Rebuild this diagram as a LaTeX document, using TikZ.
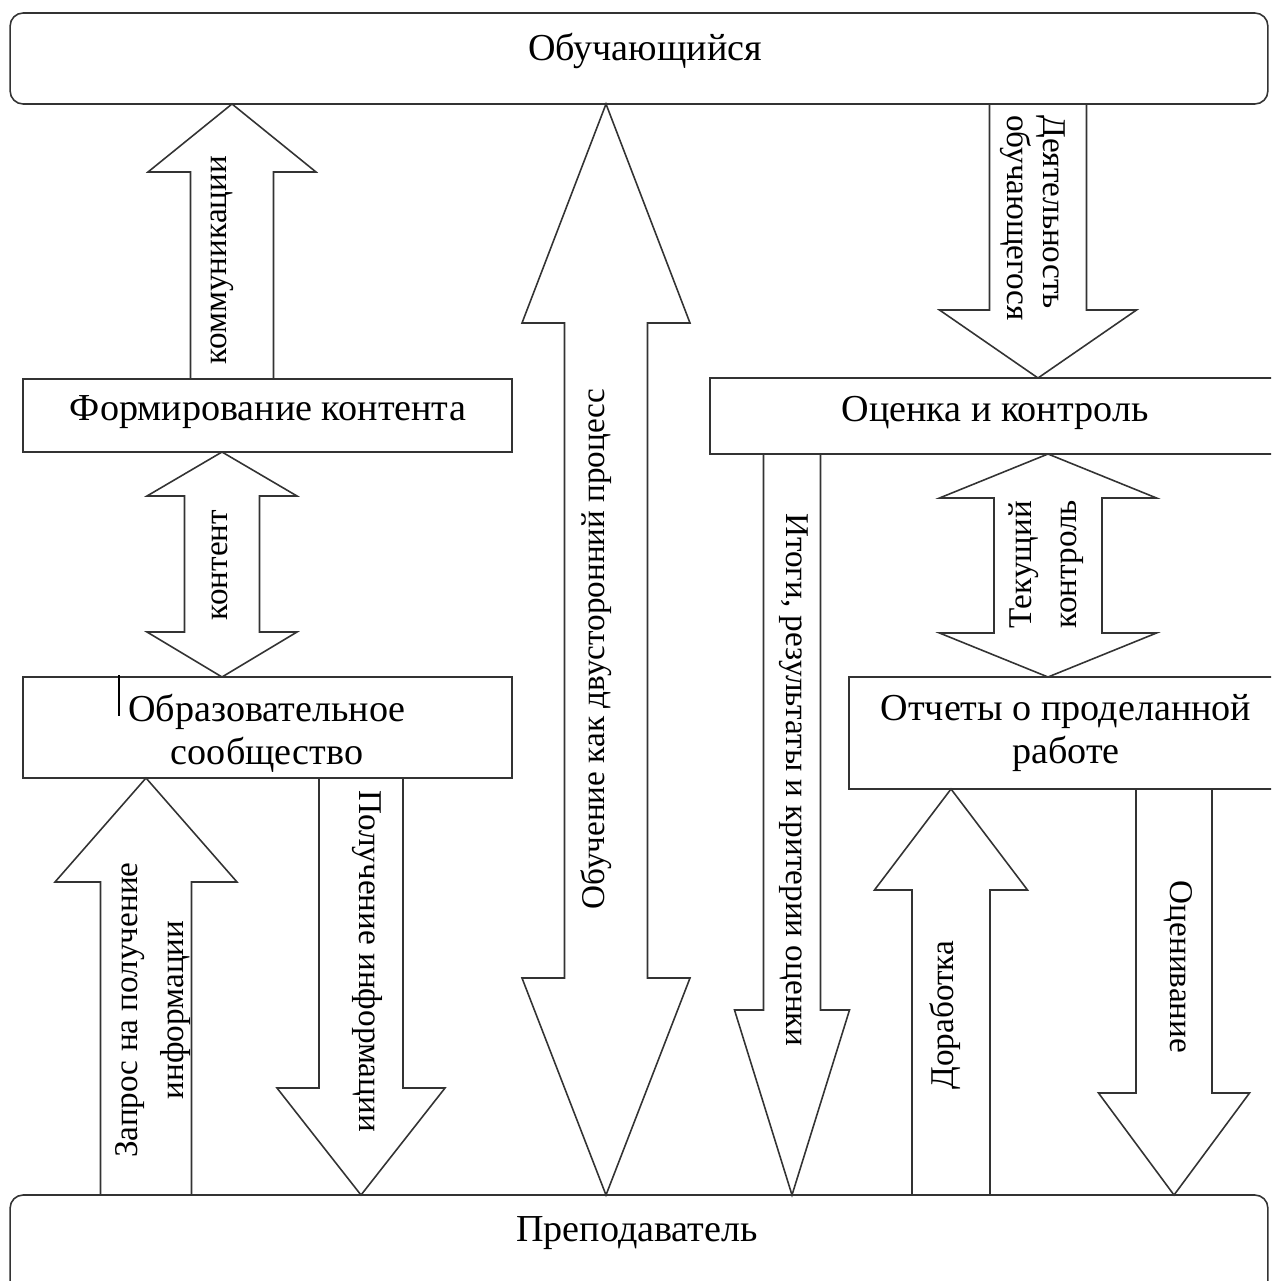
\documentclass[tikz,border=0pt]{standalone}
\usepackage{fontspec}
\setmainfont{Liberation Serif}
\usetikzlibrary{calc}
\tikzset{
  box/.style={draw=black!80, line width=0.9pt, fill=white, rectangle, inner sep=0pt, outer sep=0pt},
  bigbox/.style={box, rounded corners=0.26cm},
  arr/.style={draw=black!80, line width=0.9pt, fill=white, line join=miter},
  boxtext/.style={font=\fontsize{21.7}{24.5}\selectfont, align=center, inner sep=0pt},
  arrtext/.style={font=\fontsize{18.9}{26}\selectfont, inner sep=0pt},
}
% single block arrow: #1 tail, #2 tip, #3 shaft half width, #4 head half width, #5 signed head length
\newcommand\barrow[5]{%
  \draw[arr] ($(#1)+(-#3,0)$) -- ($(#2)+(-#3,#5)$) -- ($(#2)+(-#4,#5)$) -- (#2)
    -- ($(#2)+(#4,#5)$) -- ($(#2)+(#3,#5)$) -- ($(#1)+(#3,0)$) -- cycle;}
% double block arrow: #1 top tip, #2 bottom tip, #3 shaft half, #4 head half, #5 top head length, #6 bottom head length
\newcommand\darrow[6]{%
  \draw[arr] (#1) -- ($(#1)+(#4,#5)$) -- ($(#1)+(#3,#5)$) -- ($(#2)+(#3,-#6)$) -- ($(#2)+(#4,-#6)$)
    -- (#2) -- ($(#2)+(-#4,-#6)$) -- ($(#2)+(-#3,-#6)$) -- ($(#1)+(-#3,#5)$) -- ($(#1)+(-#4,#5)$) -- cycle;}
\begin{document}
\begin{tikzpicture}[x=0.02cm, y=-0.02cm]
\useasboundingbox (0,0) rectangle (1271,1281);
\clip (0,0) rectangle (1271,1281);
% boxes
\node[bigbox, minimum width=25.16cm, minimum height=1.82cm] (top) at (639,58.5) {};
\node[bigbox, minimum width=25.16cm, minimum height=2cm] (bot) at (639,1245) {};
\node[box, minimum width=9.78cm, minimum height=1.46cm] (form) at (267.5,415.5) {};
\node[box, minimum width=9.78cm, minimum height=2.02cm] (obr) at (267.5,727.5) {};
\node[box, minimum width=11.8cm, minimum height=1.52cm] (ocen) at (1005,416) {};
\node[box, minimum width=9.02cm, minimum height=2.24cm] (otch) at (1074.5,733) {};
% box texts
\node[boxtext] (topT) at (645,51) {Обучающийся};
\node[boxtext] (botT) at (637,1233) {Преподаватель};
\node[boxtext] (formT) at (268,412.5) {Формирование контента};
\node[boxtext] (obrT) at (267,733.5) {Образовательное\\сообщество};
\node[boxtext] (ocenT) at (995,412.5) {Оценка и контроль};
\node[boxtext] (otchT) at (1066,733) {Отчеты о проделанной\\работе};
% arrow end points
\coordinate (a1t) at (232,0 |- form.north);  \coordinate (a1p) at (232,0 |- top.south);
\coordinate (a2a) at (222,0 |- form.south);  \coordinate (a2b) at (222,0 |- obr.north);
\coordinate (a3t) at (146,0 |- bot.north);   \coordinate (a3p) at (146,0 |- obr.south);
\coordinate (a4t) at (361,0 |- obr.south);   \coordinate (a4p) at (361,0 |- bot.north);
\coordinate (a5a) at (606,0 |- top.south);   \coordinate (a5b) at (606,0 |- bot.north);
\coordinate (a6t) at (1038,0 |- top.south);  \coordinate (a6p) at (1038,0 |- ocen.north);
\coordinate (a7t) at (792,0 |- ocen.south);  \coordinate (a7p) at (792,0 |- bot.north);
\coordinate (a8a) at (1048,0 |- ocen.south); \coordinate (a8b) at (1048,0 |- otch.north);
\coordinate (a9t) at (951,0 |- bot.north);   \coordinate (a9p) at (951,0 |- otch.south);
\coordinate (a10t) at (1174,0 |- otch.south); \coordinate (a10p) at (1174,0 |- bot.north);
% arrows
\barrow{a1t}{a1p}{41.5}{84}{68}
\darrow{a2a}{a2b}{37.5}{75}{44}{45}
\barrow{a3t}{a3p}{45.5}{91}{104}
\barrow{a4t}{a4p}{42}{84}{-107}
\darrow{a5a}{a5b}{41.5}{84}{219}{217}
\barrow{a6t}{a6p}{48.5}{98.5}{-68}
\barrow{a7t}{a7p}{28.5}{57.5}{-185}
\darrow{a8a}{a8b}{54}{108.5}{44}{44}
\barrow{a9t}{a9p}{39}{76.5}{101}
\barrow{a10t}{a10p}{38}{75.5}{-102}
% arrow labels
\node[arrtext, rotate=90] (l1) at (222,260) {коммуникации};
\node[arrtext, rotate=90] (l2) at (220,565) {контент};
\node[arrtext, rotate=90, align=center] (l3) at (153,1010) {Запрос на получение\\информации};
\node[arrtext, rotate=-90] (l4) at (367,961) {Получение информации};
\node[arrtext, rotate=90] (l5) at (596,649) {Обучение как двусторонний процесс};
\node[arrtext, rotate=-90, align=left, font=\fontsize{18.9}{20.5}\selectfont] (l6) at (1033,218) {Деятельность\\обучающегося};
\node[arrtext, rotate=-90] (l7) at (794,780) {Итоги, результаты и критерии оценки};
\node[arrtext, rotate=90, align=left, font=\fontsize{18.9}{25.6}\selectfont] (l8) at (1046,564) {Текущий\\контроль};
\node[arrtext, rotate=90] (l9) at (945,1015) {Доработка};
\node[arrtext, rotate=-90] (l10) at (1178,967) {Оценивание};
% text cursor mark
\draw[line width=1.6pt] (119,675) -- (119,716);
\end{tikzpicture}
\end{document}
